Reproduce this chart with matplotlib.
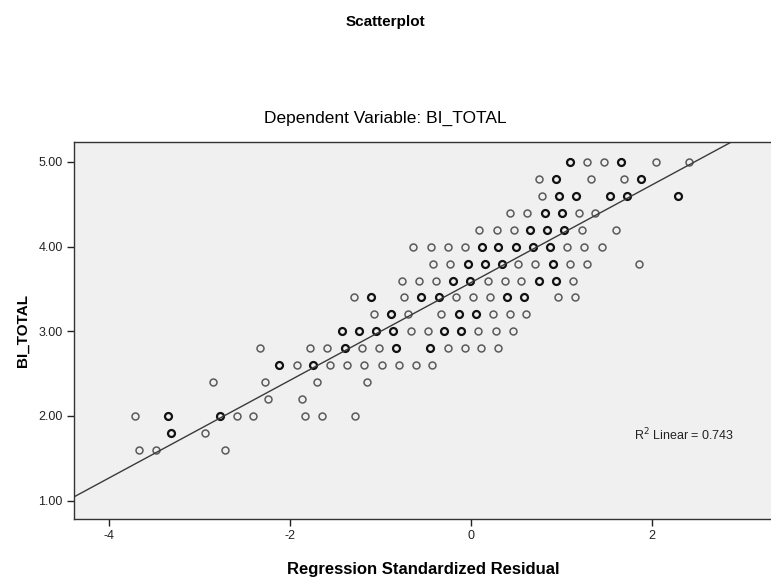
import numpy as np
import matplotlib
matplotlib.use("Agg")
import matplotlib.pyplot as plt

plt.rcParams['font.family'] = ['Liberation Sans', 'DejaVu Sans']

# BI_TOTAL levels and the standardized residuals found on each level
levels = [5.0, 4.8, 4.6, 4.4, 4.2, 4.0, 3.8, 3.6, 3.4, 3.2, 3.0, 2.8, 2.6, 2.4, 2.2, 2.0, 1.8, 1.6]
resid = [
    [1.09, 1.28, 1.47, 1.66, 2.04, 2.41],
    [0.75, 0.94, 1.32, 1.69, 1.88],
    [0.78, 0.97, 1.16, 1.53, 1.72, 2.29],
    [0.43, 0.62, 0.81, 1.00, 1.19, 1.37],
    [0.09, 0.28, 0.47, 0.65, 0.84, 1.03, 1.22, 1.60],
    [-0.64, -0.45, -0.26, -0.07, 0.12, 0.30, 0.49, 0.68, 0.87, 1.06, 1.25, 1.44],
    [-0.42, -0.23, -0.04, 0.15, 0.34, 0.52, 0.71, 0.90, 1.09, 1.28, 1.85],
    [-0.77, -0.58, -0.39, -0.20, -0.01, 0.18, 0.37, 0.55, 0.75, 0.94, 1.12],
    [-1.30, -1.11, -0.74, -0.55, -0.36, -0.17, 0.02, 0.21, 0.40, 0.58, 0.96, 1.15],
    [-1.08, -0.89, -0.70, -0.33, -0.14, 0.05, 0.24, 0.43, 0.61],
    [-1.43, -1.24, -1.05, -0.86, -0.67, -0.48, -0.30, -0.11, 0.08, 0.27, 0.46],
    [-2.34, -1.78, -1.59, -1.40, -1.21, -1.02, -0.83, -0.46, -0.26, -0.07, 0.11, 0.30],
    [-2.12, -1.93, -1.75, -1.56, -1.37, -1.18, -0.99, -0.80, -0.61, -0.43],
    [-2.85, -2.28, -1.71, -1.15],
    [-2.25, -1.87],
    [-3.72, -3.35, -2.78, -2.59, -2.41, -1.84, -1.65, -1.28],
    [-3.32, -2.94],
    [-3.67, -3.48, -2.72],
]
# 1 where several cases sit on the same spot (darker circle)
stacked = [
    [1, 0, 0, 1, 0, 0],
    [0, 1, 0, 0, 1],
    [0, 1, 1, 1, 1, 1],
    [0, 0, 1, 1, 0, 0],
    [0, 0, 0, 1, 1, 1, 0, 0],
    [0, 0, 0, 0, 1, 1, 1, 1, 1, 0, 0, 0],
    [0, 0, 1, 1, 1, 0, 0, 1, 0, 0, 0],
    [0, 0, 0, 1, 1, 0, 0, 0, 1, 1, 0],
    [0, 1, 0, 1, 1, 0, 0, 0, 1, 1, 0, 0],
    [0, 1, 0, 0, 1, 1, 0, 0, 0],
    [1, 1, 1, 1, 0, 0, 1, 1, 0, 0, 0],
    [0, 0, 0, 1, 0, 0, 1, 1, 0, 0, 0, 0],
    [1, 0, 1, 0, 0, 0, 0, 0, 0, 0],
    [0, 0, 0, 0],
    [0, 0],
    [0, 1, 1, 0, 0, 0, 0, 0],
    [1, 0],
    [0, 0, 0],
]

fit_intercept = 3.577
fit_slope = 0.577
r2 = 0.743

x = []
y = []
dark = []
for lev, xs, st in zip(levels, resid, stacked):
    for v, s in zip(xs, st):
        x.append(v)
        y.append(lev)
        dark.append(s)
x = np.array(x)
y = np.array(y)
dark = np.array(dark, dtype=bool)

fig = plt.figure(figsize=(7.71, 5.82), dpi=100)
ax = fig.add_axes([0.096, 0.108, 0.906, 0.648])
ax.set_facecolor('#f0f0f0')

ax.plot(x[~dark], y[~dark], 'o', ms=5.0, mfc='none', mec='#5a5a5a', mew=1.1)
ax.plot(x[dark], y[dark], 'o', ms=5.0, mfc='none', mec='#111111', mew=1.6)

xl = (-4.39, 3.33)
xx = np.array(xl)
ax.plot(xx, fit_intercept + fit_slope * xx, color='#3a3a3a', lw=1.0)

ax.set_xlim(*xl)
ax.set_ylim(0.781, 5.236)
ax.set_xticks([-4, -2, 0, 2])
ax.set_xticklabels(['-4', '-2', '0', '2'])
ax.set_yticks([1, 2, 3, 4, 5])
ax.set_yticklabels(['%.2f' % v for v in [1, 2, 3, 4, 5]])
ax.tick_params(direction='out', length=5, width=1, colors='#222222', labelsize=9, pad=3)
for sp in ax.spines.values():
    sp.set_color('#333333')
    sp.set_linewidth(1.0)

ax.text(1.80, 1.78, 'R$^2$ Linear = %.3f' % r2, fontsize=9, va='center', ha='left', color='#222222')

ax.set_xlabel('Regression Standardized Residual', fontsize=12, fontweight='bold', labelpad=14)
ax.set_ylabel('BI_TOTAL', fontsize=11, fontweight='bold', labelpad=6)

fig.text(0.5, 0.962, 'Scatterplot', ha='center', va='center', fontsize=11, fontweight='bold')
fig.text(0.5, 0.797, 'Dependent Variable: BI_TOTAL', ha='center', va='center', fontsize=12.5)

fig.savefig('out.png', dpi=100)
